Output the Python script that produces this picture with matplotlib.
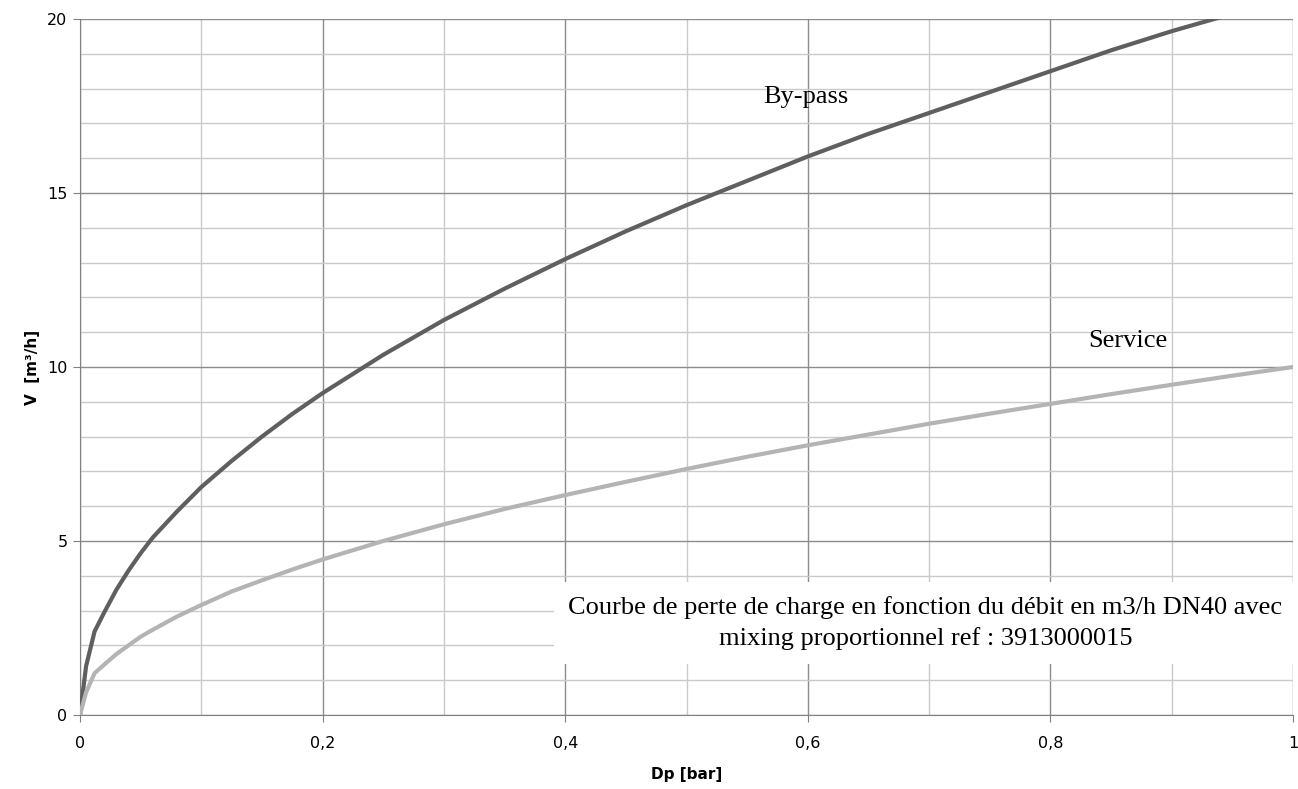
import numpy as np
from matplotlib import pyplot as plt
from matplotlib.ticker import MultipleLocator, FuncFormatter

# values
dp = [0, 0.005, 0.012, 0.02, 0.03, 0.04, 0.05, 0.06, 0.08, 0.1, 0.125, 0.15, 0.175,
      0.2, 0.25, 0.3, 0.35, 0.4, 0.45, 0.5, 0.55, 0.6, 0.65, 0.7, 0.75, 0.8, 0.85, 0.9, 0.94]
bypass = [0, 1.4, 2.4, 2.95, 3.6, 4.15, 4.65, 5.1, 5.85, 6.55, 7.3, 8.0, 8.65,
          9.25, 10.35, 11.35, 12.25, 13.1, 13.9, 14.65, 15.35, 16.05, 16.7, 17.3, 17.9, 18.5, 19.1, 19.65, 20.05]

dp_s = [0, 0.005, 0.012, 0.02, 0.03, 0.04, 0.05, 0.06, 0.08, 0.1, 0.125, 0.15, 0.175,
        0.2, 0.25, 0.3, 0.35, 0.4, 0.45, 0.5, 0.55, 0.6, 0.65, 0.7, 0.75, 0.8, 0.85, 0.9, 0.95, 1.0]
service = [0, 0.65, 1.2, 1.45, 1.75, 2.0, 2.25, 2.45, 2.83, 3.16, 3.55, 3.87, 4.18,
           4.47, 5.0, 5.48, 5.92, 6.32, 6.7, 7.07, 7.42, 7.75, 8.06, 8.37, 8.66, 8.94, 9.22, 9.49, 9.75, 10.0]

fig = plt.figure(figsize=(12.98, 7.89), dpi=100)
ax = fig.add_axes([80 / 1298, 74 / 789, 1213 / 1298, 696 / 789])

ax.plot(dp, bypass, color='#5f5f5f', lw=3.0, zorder=3, solid_capstyle='round')
ax.plot(dp_s, service, color='#b4b4b4', lw=3.0, zorder=3, solid_capstyle='round')

ax.set_xlim(0, 1)
ax.set_ylim(0, 20)
ax.xaxis.set_major_locator(MultipleLocator(0.2))
ax.xaxis.set_minor_locator(MultipleLocator(0.1))
ax.yaxis.set_major_locator(MultipleLocator(5))
ax.yaxis.set_minor_locator(MultipleLocator(1))
ax.xaxis.set_major_formatter(FuncFormatter(lambda v, p: ('%g' % round(v, 2)).replace('.', ',')))
ax.grid(which='major', color='#8c8c8c', lw=1.0)
ax.grid(which='minor', color='#cacaca', lw=1.0)
ax.set_axisbelow(True)
ax.tick_params(which='major', length=5, color='#808080', labelsize=11.5)
ax.tick_params(axis='x', pad=10)
ax.tick_params(axis='y', pad=4)
ax.tick_params(which='minor', length=0)
for s in ['top', 'right']:
    ax.spines[s].set_visible(False)
ax.spines['left'].set_color('#808080')
ax.spines['bottom'].set_color('#808080')

ax.set_xlabel('Dp [bar]', fontweight='bold', fontsize=11, labelpad=12)
ax.set_ylabel('V  [m³/h]', fontweight='bold', fontsize=11, labelpad=5)

serif = 'Liberation Serif'
ax.text(0.598, 17.75, 'By-pass', family=serif, fontsize=19, ha='center', va='center')
ax.text(0.864, 10.75, 'Service', family=serif, fontsize=19, ha='center', va='center')
ax.text(0.697, 2.64, 'Courbe de perte de charge en fonction du débit en m3/h DN40 avec\nmixing proportionnel ref : 3913000015',
        family=serif, fontsize=19, ha='center', va='center', linespacing=1.45, zorder=4,
        bbox=dict(facecolor='white', edgecolor='none', pad=10))

fig.savefig('out.png', dpi=100)
